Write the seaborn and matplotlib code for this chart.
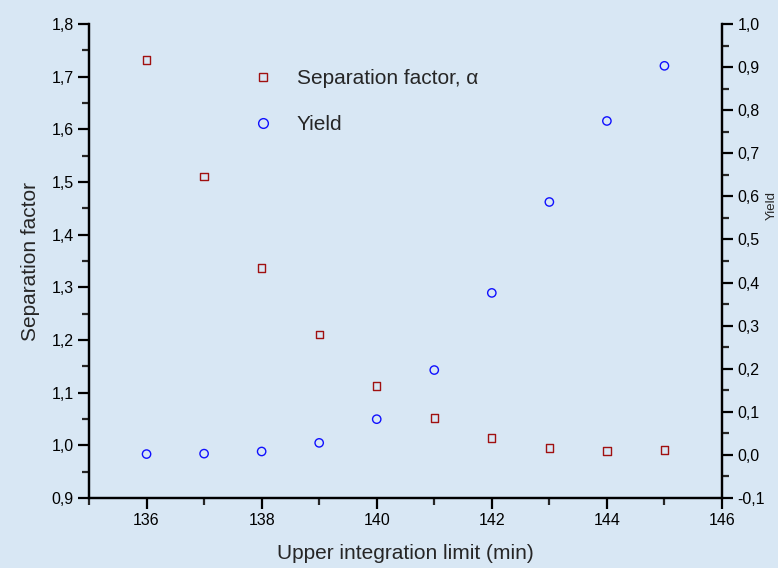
import matplotlib
matplotlib.use("Agg")
import matplotlib.pyplot as plt
from matplotlib.ticker import MultipleLocator, FuncFormatter
from matplotlib.lines import Line2D
import seaborn as sns
import pandas as pd

# values
limits = [136, 137, 138, 139, 140, 141, 142, 143, 144, 145]
sep_factor = [1.732, 1.510, 1.337, 1.211, 1.113, 1.052, 1.014, 0.995, 0.989, 0.991]
yield_vals = [0.002, 0.003, 0.008, 0.028, 0.083, 0.197, 0.376, 0.587, 0.775, 0.903]

df = pd.DataFrame({"limit": limits, "sep": sep_factor, "yield": yield_vals})

sns.set_style("ticks")
plt.rcParams["font.family"] = ["Liberation Sans", "DejaVu Sans"]

bg = "#d8e7f4"
fig = plt.figure(figsize=(7.78, 5.68), dpi=100, facecolor=bg)
ax = fig.add_axes([0.1144, 0.1232, 0.8136, 0.8345])
ax.set_facecolor(bg)
ax2 = ax.twinx()

sns.scatterplot(data=df, x="limit", y="sep", ax=ax, marker="s", s=28,
                facecolor="none", edgecolor="#a01010", linewidth=1.0)
sns.scatterplot(data=df, x="limit", y="yield", ax=ax2, marker="o", s=36,
                facecolor="none", edgecolor="#1010ff", linewidth=1.0)

ax.set_xlim(135, 146)
ax.set_ylim(0.9, 1.8)
ax2.set_ylim(-0.1, 1.0)

comma = FuncFormatter(lambda v, p: f"{v:.1f}".replace(".", ","))
ax.xaxis.set_major_locator(MultipleLocator(2))
ax.xaxis.set_minor_locator(MultipleLocator(1))
ax.yaxis.set_major_locator(MultipleLocator(0.1))
ax.yaxis.set_minor_locator(MultipleLocator(0.05))
ax.yaxis.set_major_formatter(comma)
ax2.yaxis.set_major_locator(MultipleLocator(0.1))
ax2.yaxis.set_minor_locator(MultipleLocator(0.05))
ax2.yaxis.set_major_formatter(comma)

for a in (ax, ax2):
    a.spines["top"].set_visible(False)
    for sp in a.spines.values():
        sp.set_linewidth(1.6)
        sp.set_color("black")
    a.tick_params(which="major", length=8, width=1.6, labelsize=11.5,
                  colors="black", pad=3)
    a.tick_params(which="minor", length=5, width=1.6)

ax.set_xlabel("Upper integration limit (min)", fontsize=15, labelpad=11)
ax.set_ylabel("Separation factor", fontsize=15, labelpad=8)
ax2.set_ylabel("Yield", fontsize=9.5)
ax2.yaxis.set_label_coords(1.069, 0.618)

handles = [
    Line2D([], [], marker="s", linestyle="none", markersize=6,
           markerfacecolor="none", markeredgecolor="#a01010", markeredgewidth=1.0),
    Line2D([], [], marker="o", linestyle="none", markersize=7,
           markerfacecolor="none", markeredgecolor="#1010ff", markeredgewidth=1.0),
]
ax.legend(handles, ["Separation factor, α", "Yield"], loc="upper left",
          bbox_to_anchor=(0.213, 0.945), frameon=False, fontsize=15,
          handletextpad=0.6, labelspacing=1.3)

fig.savefig("out.png", dpi=100, facecolor=bg)
